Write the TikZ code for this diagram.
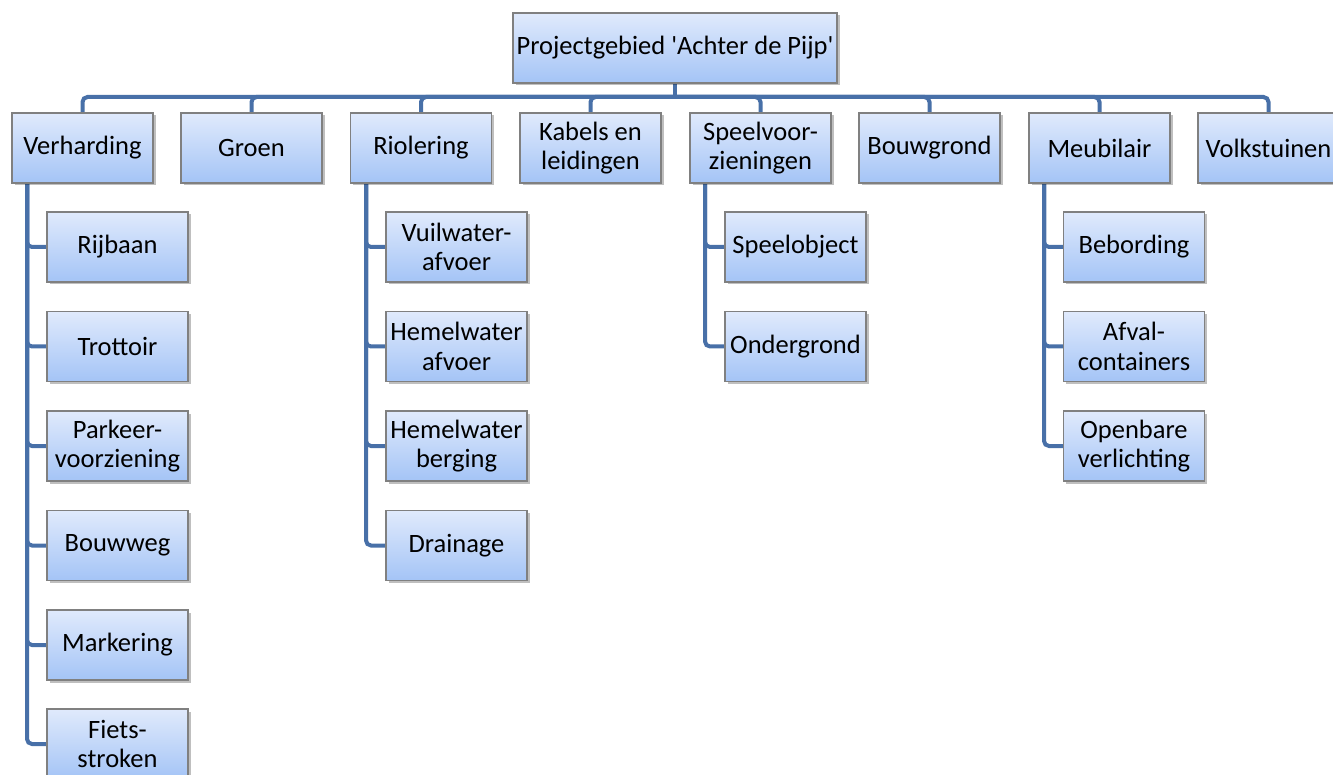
\documentclass[tikz,border=0pt]{standalone}
\usepackage{fontspec}
\setmainfont{Carlito}
\usetikzlibrary{shadows,calc,backgrounds}
\definecolor{conncol}{RGB}{72,112,168}
\definecolor{boxtop}{RGB}{224,234,252}
\definecolor{boxbot}{RGB}{164,196,246}
\definecolor{boxline}{RGB}{128,128,128}
\tikzset{
  box/.style={draw=boxline, line width=1.2pt, top color=boxtop, bottom color=boxbot,
    minimum width=141pt, minimum height=70pt, inner sep=0pt, align=center,
    font=\fontsize{26.5}{29.5}\selectfont,
    drop shadow={shadow xshift=2.5pt, shadow yshift=-2.5pt, fill=black, opacity=0.25}},
  conn/.style={draw=conncol, line width=4pt}
}
\begin{document}
\begin{tikzpicture}[x=1pt,y=-1pt]
\useasboundingbox (0,0) rectangle (1333,775);
\clip (0,0) rectangle (1333,775);
\coordinate (bus) at (675,97);
% nodes
\node[box, minimum width=324pt] (top) at (675,48) {Projectgebied \textquotesingle Achter de Pijp\textquotesingle};
\node[box] (ver) at (82.5,148) {Verharding};
\node[box] (gro) at (251.5,148) {Groen};
\node[box] (rio) at (421,148) {Riolering};
\node[box] (kab) at (590.5,148) {Kabels en\\leidingen};
\node[box] (spe) at (760.5,148) {Speelvoor-\\zieningen};
\node[box] (bou) at (929.5,148) {Bouwgrond};
\node[box] (meu) at (1099.5,148) {Meubilair};
\node[box] (vol) at (1268.5,148) {Volkstuinen};
% Verharding children
\node[box] (v1) at (117.5,247) {Rijbaan};
\node[box] (v2) at (117.5,346.5) {Trottoir};
\node[box] (v3) at (117.5,446) {Parkeer-\\voorziening};
\node[box] (v4) at (117.5,545.5) {Bouwweg};
\node[box] (v5) at (117.5,645) {Markering};
\node[box] (v6) at (117.5,744) {Fiets-\\stroken};
% Riolering children
\node[box] (r1) at (456.5,247) {Vuilwater-\\afvoer};
\node[box] (r2) at (456.5,346.5) {Hemelwater\\afvoer};
\node[box] (r3) at (456.5,446) {Hemelwater\\berging};
\node[box] (r4) at (456.5,545.5) {Drainage};
% Speel children
\node[box] (s1) at (795.5,247) {Speelobject};
\node[box] (s2) at (795.5,346.5) {Ondergrond};
% Meubilair children
\node[box] (m1) at (1134,247) {Bebording};
\node[box] (m2) at (1134,346.5) {Afval-\\containers};
\node[box] (m3) at (1134,446) {Openbare\\verlichting};
% connectors
\begin{scope}[on background layer]
\draw[conn] (top.south) -- (bus);
\foreach \n in {ver,gro,rio,kab,spe,bou,meu,vol}{
  \draw[conn, rounded corners=5pt] (bus) -| (\n.north);
}
\foreach \n in {v1,v2,v3,v4,v5,v6}{
  \draw[conn, rounded corners=5pt] ([xshift=-55.5pt]ver.south) |- (\n.west);
}
\foreach \n in {r1,r2,r3,r4}{
  \draw[conn, rounded corners=5pt] ([xshift=-55pt]rio.south) |- (\n.west);
}
\foreach \n in {s1,s2}{
  \draw[conn, rounded corners=5pt] ([xshift=-55.5pt]spe.south) |- (\n.west);
}
\foreach \n in {m1,m2,m3}{
  \draw[conn, rounded corners=5pt] ([xshift=-55.5pt]meu.south) |- (\n.west);
}
\end{scope}
\end{tikzpicture}
\end{document}
